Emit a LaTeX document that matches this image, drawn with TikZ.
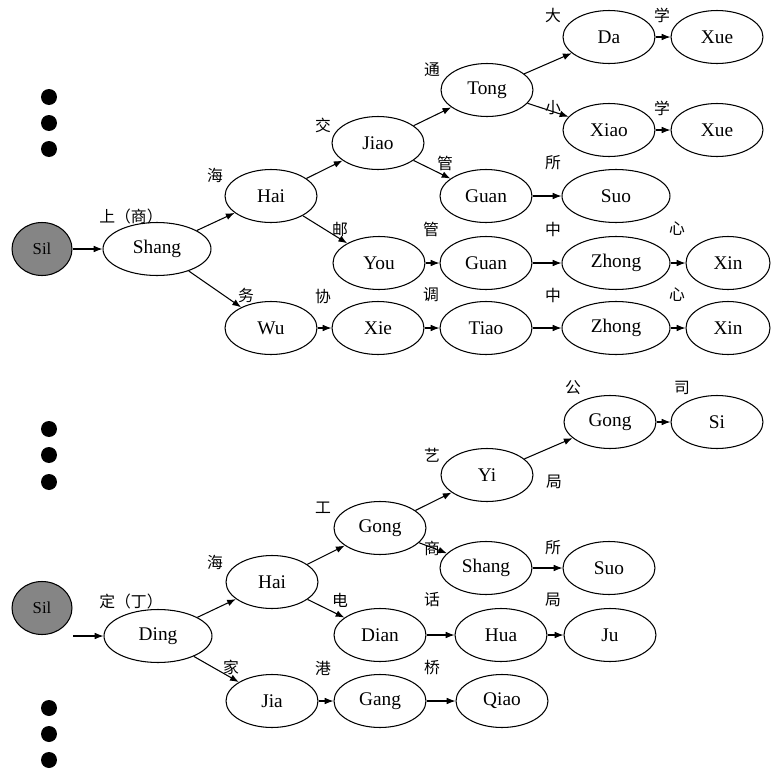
\documentclass[tikz,border=0pt]{standalone}
\usepackage{fontspec}
\setmainfont{Liberation Serif}
\newfontfamily\cjk{Noto Sans CJK SC}
\usepackage{tikz}
\usetikzlibrary{shapes.geometric,arrows.meta}

\begin{document}
\begin{tikzpicture}[x=0.02cm,y=-0.02cm,
    word/.style={draw, ellipse, line width=0.6pt, minimum width=1.84cm, minimum height=1.06cm, inner sep=0pt, font=\fontsize{11}{11}\selectfont},
    wide/.style={word, minimum width=2.16cm},
    root/.style={word, minimum width=1.2cm, fill=black!48, font=\fontsize{9.5}{9.5}\selectfont},
    zi/.style={inner sep=0pt, font=\cjk\fontsize{9}{9}\selectfont},
    arr/.style={-{Latex[length=5pt,width=3.8pt]}, line width=0.6pt}]
   \useasboundingbox (0,0) rectangle (772,771);
   \fill[white] (0,0) rectangle (772,771);
   % dots
   \foreach \y in {97,123,149,429,455,482,708,734,760}
     \fill (49,\y) circle (0.16cm);

   % upper tree
   \node[root] (sil1) at (42,249) {Sil};
   \node[wide] (shang1) at (157,249) {Shang};
   \node[word] (hai1) at (271,196) {Hai};
   \node[word] (jiao) at (378,143) {Jiao};
   \node[word] (you) at (379,263) {You};
   \node[word] (wu) at (271,328) {Wu};
   \node[word] (xie) at (378,328) {Xie};
   \node[word] (tong) at (487,90) {Tong};
   \node[word] (da) at (609,37) {Da};
   \node[word] (xueA) at (717,37) {Xue};
   \node[word] (xiao) at (609,130) {Xiao};
   \node[word] (xueB) at (717,130) {Xue};
   \node[word] (guanA) at (486,196) {Guan};
   \node[wide] (suoA) at (616,196) {Suo};
   \node[word] (guanB) at (486,263) {Guan};
   \node[wide] (zhongA) at (616,263) {Zhong};
   \node[word, minimum width=1.68cm] (xinA) at (728,263) {Xin};
   \node[word] (tiao) at (486,328) {Tiao};
   \node[wide] (zhongB) at (616,328) {Zhong};
   \node[word, minimum width=1.68cm] (xinB) at (728,328) {Xin};

   \node[zi] (zShang1) at (131,216) {上（商）};
   \node[zi] (zHai1) at (215,175) {海};
   \node[zi] (zJiao) at (323,125) {交};
   \node[zi] (zYou) at (340,229) {邮};
   \node[zi] (zWu) at (246,295) {务};
   \node[zi] (zXie) at (323,296) {协};
   \node[zi] (zTong) at (432,70) {通};
   \node[zi] (zDa) at (553,15) {大};
   \node[zi] (zXueA) at (662,15) {学};
   \node[zi] (zXiao) at (553,108) {小};
   \node[zi] (zXueB) at (662,108) {学};
   \node[zi] (zGuanA) at (445,163) {管};
   \node[zi] (zSuoA) at (553,163) {所};
   \node[zi] (zGuanB) at (431,229) {管};
   \node[zi] (zZhongA) at (553,229) {中};
   \node[zi] (zXinA) at (677,229) {心};
   \node[zi] (zTiao) at (431,295) {调};
   \node[zi] (zZhongB) at (553,295) {中};
   \node[zi] (zXinB) at (677,295) {心};

   \draw[arr] (sil1) -- (shang1);
   \draw[arr] (shang1) -- (hai1);
   \draw[arr] (shang1) -- (wu);
   \draw[arr] (hai1) -- (jiao);
   \draw[arr] (hai1) -- (you);
   \draw[arr] (jiao) -- (tong);
   \draw[arr] (jiao) -- (guanA);
   \draw[arr] (tong) -- (da);
   \draw[arr] (tong) -- (xiao);
   \draw[arr] (da) -- (xueA);
   \draw[arr] (xiao) -- (xueB);
   \draw[arr] (guanA) -- (suoA);
   \draw[arr] (you) -- (guanB);
   \draw[arr] (guanB) -- (zhongA);
   \draw[arr] (zhongA) -- (xinA);
   \draw[arr] (wu) -- (xie);
   \draw[arr] (xie) -- (tiao);
   \draw[arr] (tiao) -- (zhongB);
   \draw[arr] (zhongB) -- (xinB);

   % lower tree
   \node[root] (sil2) at (42,608) {Sil};
   \coordinate (start2) at (73,636);
   \node[wide] (ding) at (158,636) {Ding};
   \node[word] (hai2) at (272,582) {Hai};
   \node[word] (gongA) at (380,528) {Gong};
   \node[word] (dian) at (380,635) {Dian};
   \node[word] (jia) at (272,701) {Jia};
   \node[word] (gang) at (380,701) {Gang};
   \node[word] (yi) at (487,475) {Yi};
   \node[word] (gongB) at (610,422) {Gong};
   \node[word] (si) at (717,422) {Si};
   \node[word] (shang2) at (486,568) {Shang};
   \node[word] (suoB) at (609,568) {Suo};
   \node[word] (hua) at (501,635) {Hua};
   \node[word] (ju) at (610,635) {Ju};
   \node[word] (qiao) at (502,701) {Qiao};

   \node[zi] (zDing) at (131,601) {定（丁）};
   \node[zi] (zHai2) at (215,562) {海};
   \node[zi] (zGongA) at (323,508) {工};
   \node[zi] (zDian) at (340,600) {电};
   \node[zi] (zJia) at (231,667) {家};
   \node[zi] (zGang) at (323,668) {港};
   \node[zi] (zYi) at (432,455) {艺};
   \node[zi] (zGongB) at (573,388) {公};
   \node[zi] (zSi) at (682,388) {司};
   \node[zi] (zJuA) at (554,482) {局};
   \node[zi] (zShang2) at (432,548) {商};
   \node[zi] (zSuoB) at (553,548) {所};
   \node[zi] (zHua) at (432,600) {话};
   \node[zi] (zJuB) at (553,600) {局};
   \node[zi] (zQiao) at (432,668) {桥};

   \draw[arr] (start2) -- (ding);
   \draw[arr] (ding) -- (hai2);
   \draw[arr] (ding) -- (jia);
   \draw[arr] (hai2) -- (gongA);
   \draw[arr] (hai2) -- (dian);
   \draw[arr] (gongA) -- (yi);
   \draw[arr] (gongA) -- (shang2);
   \draw[arr] (yi) -- (gongB);
   \draw[arr] (gongB) -- (si);
   \draw[arr] (shang2) -- (suoB);
   \draw[arr] (dian) -- (hua);
   \draw[arr] (hua) -- (ju);
   \draw[arr] (jia) -- (gang);
   \draw[arr] (gang) -- (qiao);
\end{tikzpicture}
\end{document}
